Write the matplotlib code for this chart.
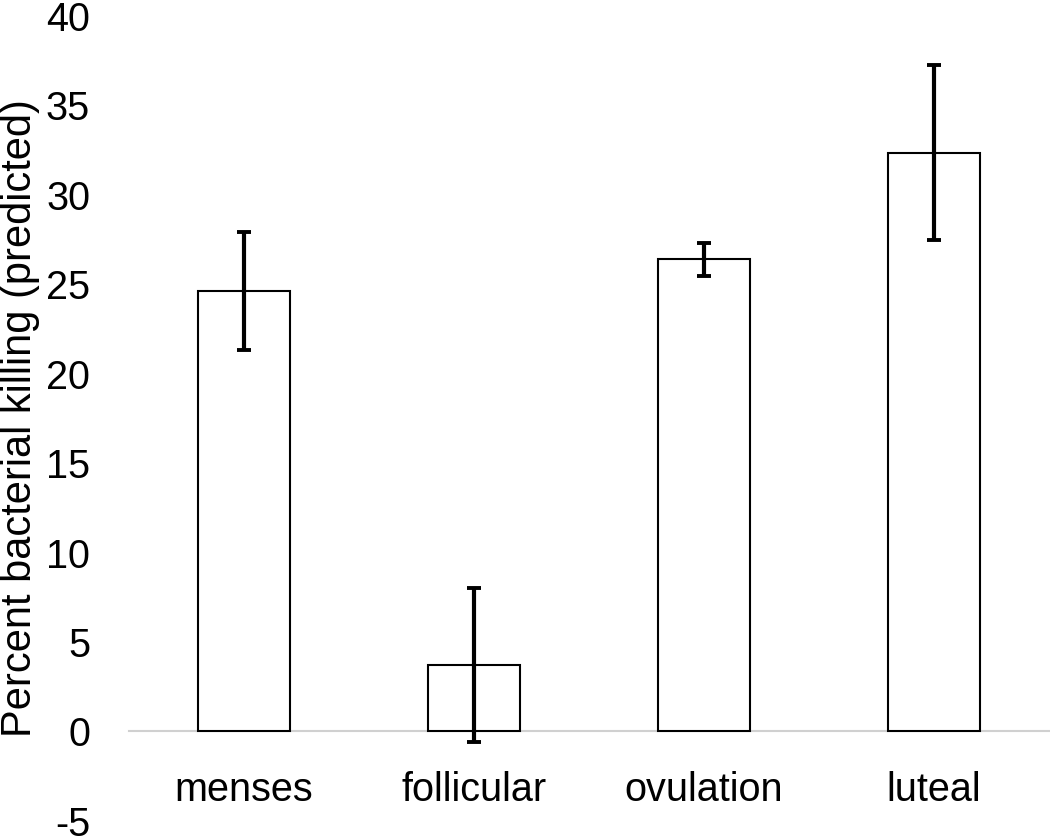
import matplotlib
matplotlib.use("Agg")
import matplotlib.pyplot as plt

phases = ["menses", "follicular", "ovulation", "luteal"]
killing = [24.65, 3.7, 26.4, 32.35]
err = [3.3, 4.3, 0.93, 4.9]
yticks = [-5, 0, 5, 10, 15, 20, 25, 30, 35, 40]

plt.rcParams['font.family'] = ['Liberation Sans', 'DejaVu Sans']

fig = plt.figure(figsize=(10.5, 8.38), dpi=100)
ax = fig.add_axes([0.1229, 0.0205, 0.8761, 0.9604])

x = range(len(phases))
ax.bar(x, killing, width=0.4, color='white', edgecolor='black', linewidth=1.5, zorder=2)
ax.errorbar(x, killing, yerr=err, fmt='none', ecolor='black', elinewidth=3,
            capsize=4.7, capthick=2.8, zorder=3)

ax.set_xlim(-0.5, 3.5)
ax.set_ylim(-5, 40)
ax.set_yticks(yticks)
ax.set_yticklabels([str(t) for t in yticks])
ax.set_xticks(list(x))
ax.set_xticklabels(phases)

for s in ['top', 'right', 'left']:
    ax.spines[s].set_visible(False)
ax.spines['bottom'].set_position(('data', 0))
ax.spines['bottom'].set_color('#d0d0d0')
ax.spines['bottom'].set_linewidth(1.5)
ax.spines['bottom'].set_zorder(1)

ax.tick_params(axis='both', length=0, labelsize=28.5)
ax.tick_params(axis='y', pad=28)
ax.tick_params(axis='x', pad=28.5)

ax.set_ylabel("Percent bacterial killing (predicted)", fontsize=30)
ax.yaxis.set_label_coords(-0.097, 0.5)

fig.savefig("out.png", dpi=100)
